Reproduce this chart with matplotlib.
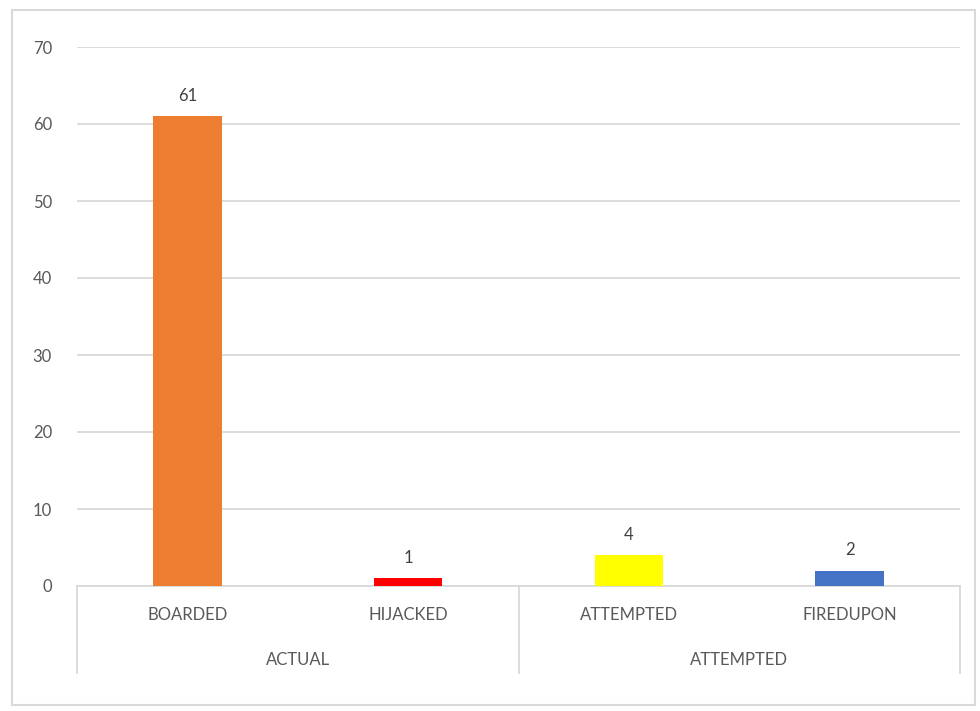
import matplotlib
matplotlib.use("Agg")
import matplotlib.pyplot as plt
from matplotlib.patches import Rectangle
import matplotlib.transforms as mtransforms

# data
categories = ["BOARDED", "HIJACKED", "ATTEMPTED", "FIREDUPON"]
values = [61, 1, 4, 2]
bar_colors = ["#ED7D31", "#FF0000", "#FFFF00", "#4472C4"]
groups = ["ACTUAL", "ATTEMPTED"]
group_sizes = [2, 2]
yticks = [0, 10, 20, 30, 40, 50, 60, 70]

plt.rcParams['font.family'] = ['Lato', 'DejaVu Sans']
txt = "#595959"
grid = "#D9D9D9"

W, H = 980, 711
fig = plt.figure(figsize=(W / 100, H / 100), dpi=100)
fig.patch.set_facecolor("white")

# outer chart frame
fig.patches.append(Rectangle((12 / W, 6 / H), 963 / W, 695 / H, transform=fig.transFigure,
                             fill=False, edgecolor="#D9D9D9", lw=1.5))

ax_l, ax_r, ax_t, ax_b = 77, 960, 47, 586
ax = fig.add_axes([ax_l / W, (H - ax_b) / H, (ax_r - ax_l) / W, (ax_b - ax_t) / H])
ax_h = ax_b - ax_t

x = list(range(len(categories)))
ax.bar(x, values, width=0.31, color=bar_colors, zorder=3)
for xi, v in zip(x, values):
    ax.annotate(str(v), (xi, v), xytext=(0, 9), textcoords="offset points",
                ha="center", va="bottom", fontsize=12, color="#404040")

ax.set_xlim(-0.5, len(categories) - 0.5)
ax.set_ylim(0, 70)
ax.set_yticks(yticks)
ax.set_yticklabels([str(t) for t in yticks], fontsize=12, color=txt)
ax.tick_params(axis="y", length=0, pad=18)
ax.set_xticks([])
ax.yaxis.grid(True, color=grid, lw=1.3, zorder=0)
for s in ["top", "right", "left"]:
    ax.spines[s].set_visible(False)
ax.spines["bottom"].set_color(grid)
ax.spines["bottom"].set_linewidth(1.3)

trans = mtransforms.blended_transform_factory(ax.transData, ax.transAxes)
# category labels
for xi, c in zip(x, categories):
    ax.text(xi, -29 / ax_h, c, transform=trans, ha="center", va="center",
            fontsize=12, color=txt)

# group labels and separators
sep_bottom = -87 / ax_h
start = 0
ax.plot([-0.5, -0.5], [0, sep_bottom], transform=trans, color=grid, lw=1.3, clip_on=False)
for g, n in zip(groups, group_sizes):
    end = start + n
    center = (start + end - 1) / 2
    ax.text(center, -74 / ax_h, g, transform=trans, ha="center", va="center",
            fontsize=12, color=txt)
    ax.plot([end - 0.5, end - 0.5], [0, sep_bottom], transform=trans, color=grid,
            lw=1.3, clip_on=False)
    start = end

fig.savefig("out.png", dpi=100)
